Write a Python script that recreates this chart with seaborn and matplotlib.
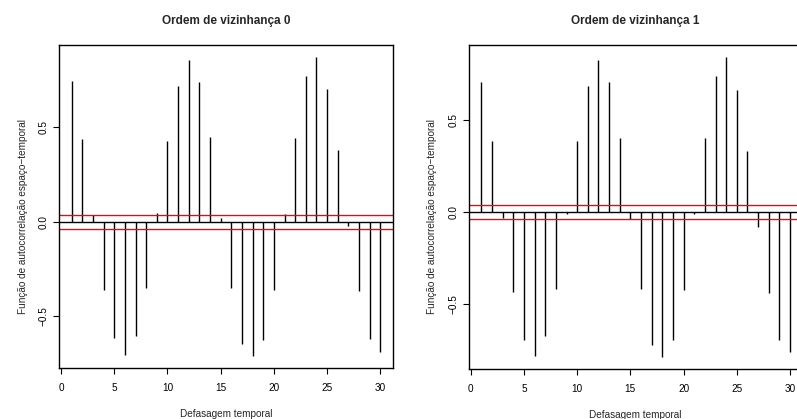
import numpy as np
import pandas as pd
import matplotlib
matplotlib.use("Agg")
import matplotlib.pyplot as plt
import seaborn as sns

sns.set_theme(style="white")
plt.rcParams["font.family"] = ["Liberation Sans", "DejaVu Sans"]
plt.rcParams["axes.unicode_minus"] = True

lags = list(range(1, 31))
acf_ordem0 = [0.749, 0.440, 0.035, -0.366, -0.617, -0.707, -0.606, -0.353, 0.044, 0.429,
              0.721, 0.860, 0.743, 0.450, 0.021, -0.353, -0.650, -0.716, -0.629, -0.366,
              0.039, 0.443, 0.774, 0.876, 0.706, 0.381, -0.023, -0.371, -0.624, -0.691]
acf_ordem1 = [0.704, 0.386, -0.031, -0.435, -0.694, -0.783, -0.676, -0.417, -0.011, 0.388,
              0.683, 0.826, 0.708, 0.404, -0.038, -0.419, -0.723, -0.788, -0.698, -0.426,
              -0.011, 0.404, 0.739, 0.844, 0.665, 0.333, -0.082, -0.440, -0.694, -0.763]
limites = [0.037, 0.036]
titulos = ["Ordem de vizinhança 0", "Ordem de vizinhança 1"]
xticks = [0, 5, 10, 15, 20, 25, 30]
yticks = [-0.5, 0.0, 0.5]

df = pd.DataFrame({"lag": lags, "ordem0": acf_ordem0, "ordem1": acf_ordem1})

W, H = 797, 419
fig = plt.figure(figsize=(W / 100, H / 100), dpi=100)

# axes boxes in pixels: left, top, width, height
boxes = [(59.3, 44.7, 333.4, 323.6), (469.0, 44.7, 333.4, 324.3)]

for i, (col, titulo, lim) in enumerate(zip(["ordem0", "ordem1"], titulos, limites)):
    l, t, w, h = boxes[i]
    ax = fig.add_axes([l / W, (H - t - h) / H, w / W, h / H])
    vals = df[col]
    ax.vlines(df["lag"], 0, vals, color="black", lw=1.0)
    ax.axhline(0, color="black", lw=1.0)
    ax.axhline(lim, color="red", lw=1.0)
    ax.axhline(-lim, color="red", lw=1.0)

    # R style 4% padding
    x0, x1 = min(lags), max(lags)
    pad = 0.04 * (x1 - x0)
    ax.set_xlim(x0 - pad, x1 + pad)
    y0, y1 = vals.min(), vals.max()
    pad = 0.04 * (y1 - y0)
    ax.set_ylim(y0 - pad, y1 + pad)

    ax.set_xticks(xticks)
    ax.set_yticks(yticks)
    ax.set_yticklabels([f"{v:.1f}".replace("-", "\u2212") for v in yticks],
                       rotation=90, va="center")
    ax.tick_params(axis="both", direction="out", length=4.3, width=0.8,
                   color="black", labelsize=7.2, labelcolor="black",
                   bottom=True, left=True)
    ax.tick_params(axis="x", pad=6.5)
    ax.tick_params(axis="y", pad=3.5)
    for s in ax.spines.values():
        s.set_color("black")
        s.set_linewidth(1.0)
        s.set_visible(True)

    ax.set_title(titulo, fontsize=8.5, fontweight="bold", pad=15)
    ax.set_xlabel("Defasagem temporal", fontsize=7.2)
    ax.set_ylabel("Função de autocorrelação espaço\u2212temporal", fontsize=7.2)
    ax.xaxis.set_label_coords(0.5, -0.125)
    ax.yaxis.set_label_coords(-0.095, 0.47)

fig.savefig("out.png", dpi=100, facecolor="white")
